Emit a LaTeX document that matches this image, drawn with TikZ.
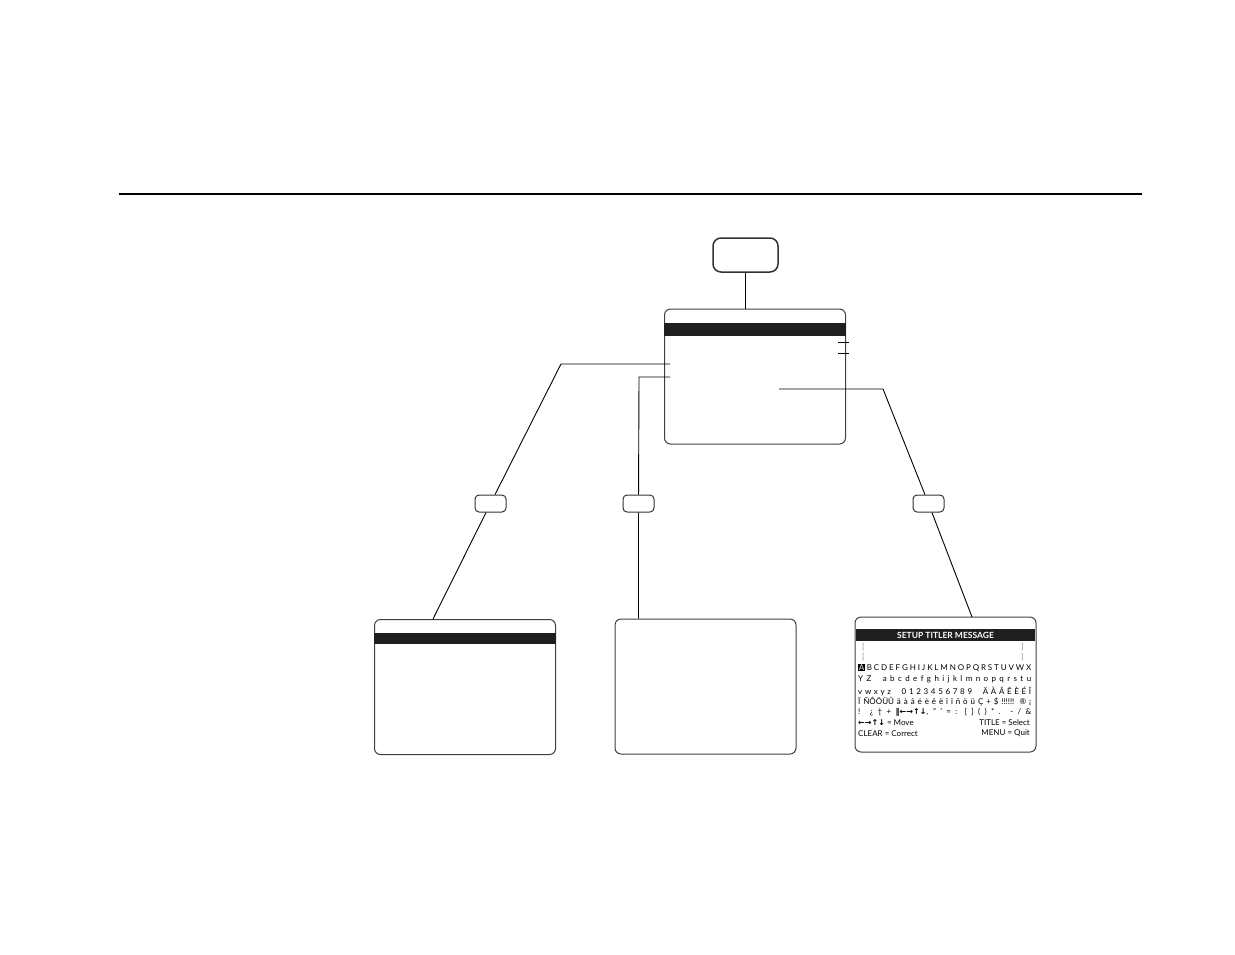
\documentclass[tikz,border=0pt]{standalone}
\usepackage{fontspec}
\setmainfont{Lato}
\newfontfamily\symfont{DejaVu Sans}
\usetikzlibrary{positioning}

\tikzset{
  screen/.style={draw=black!75, line width=1pt, rounded corners=6pt, fill=white,
    minimum width=181pt, minimum height=135pt, inner sep=0pt},
  keybox/.style={draw=black!80, line width=1pt, rounded corners=4pt, fill=white,
    minimum width=31pt, minimum height=17pt, inner sep=0pt},
  bigkey/.style={keybox, line width=1.5pt, rounded corners=8pt,
    minimum width=65pt, minimum height=34pt},
  link/.style={line width=0.9pt},
  band/.style={fill=black!88},
  row/.style={anchor=west, inner sep=0pt, font=\fontsize{8}{9}\selectfont},
  rowend/.style={row, anchor=east},
  brk/.style={row, text=black!45},
}

\begin{document}
\begin{tikzpicture}[x=1pt,y=-1pt]
        \useasboundingbox (0,0) rectangle (1235,954);

        \draw[line width=2.5pt] (119,194) -- (1142,194);

        % menu key and main menu
        \node[bigkey] (menukey) at (745.5,255) {};
        \node[screen] (mainmenu) at (755,376.5) {};
        \fill[band] (664,323) rectangle (846,336);

        % keys
        \node[keybox] (leftkey) at (490.5,503.5) {};
        \node[keybox] (midkey) at (638.5,503.5) {};
        \node[keybox] (rightkey) at (928.5,503.5) {};

        % screens
        \node[screen] (leftscreen) at (465,687) {};
        \fill[band] (374,633) rectangle (556,644);
        \node[screen] (midscreen) at (705.5,686.5) {};
        \node[screen] (titler) at (945.5,684.5) {};
        \fill[band] (856,629) rectangle (1035,641);

        \coordinate (lstub) at (670,364);
        \coordinate (lbend) at (561,364);
        \coordinate (ltop) at (433,619);
        \coordinate (mstub) at (670,377);
        \coordinate (mbend) at (639,377);
        \coordinate (rstub) at (779,389);
        \coordinate (rbend) at (883,389);
        \coordinate (rtop) at (972,617);

        \draw[link] (menukey.south) -- (menukey.south |- mainmenu.north);
        \draw[link] (lstub) -- (lbend) -- (leftkey) -- (ltop);
        \draw[link] (mstub) -- (mbend) -- (midkey) -- (midkey |- midscreen.north);
        \draw[link] (rstub) -- (rbend) -- (rightkey) -- (rtop);

        \draw[link] (838,342) -- (849,342);
        \draw[link] (838,353) -- (849,353);

        % titler text
        \node[font=\bfseries\fontsize{8.5}{9}\selectfont, text=white] (ttitle) at (945.5,635.5) {SETUP TITLER MESSAGE};
        \node[brk] (bl1) at (862,647) {[};
        \node[brk] (br1) at (1021,647) {]};
        \node[brk] (bl2) at (862,657) {[};
        \node[brk] (br2) at (1021,657) {]};

        \node[row] (r1) at (858,668) {\makebox[173pt][s]{{\setlength{\fboxsep}{0.7pt}\colorbox{black}{\textcolor{white}{A}}} B C D E F G H I J K L M N O P Q R S T U V W X}};
        \node[row] (r2) at (858,679.5) {\makebox[173pt][s]{Y Z \quad a b c d e f g h i j k l m n o p q r s t u}};
        \node[row] (r3) at (858,691) {\makebox[173pt][s]{v w x y z \quad 0 1 2 3 4 5 6 7 8 9 \quad Ä À Â Ê È É Î}};
        \node[row] (r4) at (858,702) {\makebox[173pt][s]{Ï ÑÔÖÜÛ ä à â é è ê ë ï î ñ ö ü Ç + \$ !!!!!! ® ¡}};
        \node[row] (r5) at (858,712) {\makebox[173pt][s]{! ¿ † + {\symfont\bfseries ‖←→↑↓}, " ' = : [ ] ( ) * . - / \&}};
        \node[row] (move) at (858,722.5) {{\symfont\bfseries ←→↑↓} = Move};
        \node[rowend] (select) at (1030,722.5) {TITLE = Select};
        \node[row] (correct) at (858,733.5) {CLEAR = Correct};
        \node[rowend] (quit) at (1030,733.5) {MENU = Quit};

\end{tikzpicture}
\end{document}
